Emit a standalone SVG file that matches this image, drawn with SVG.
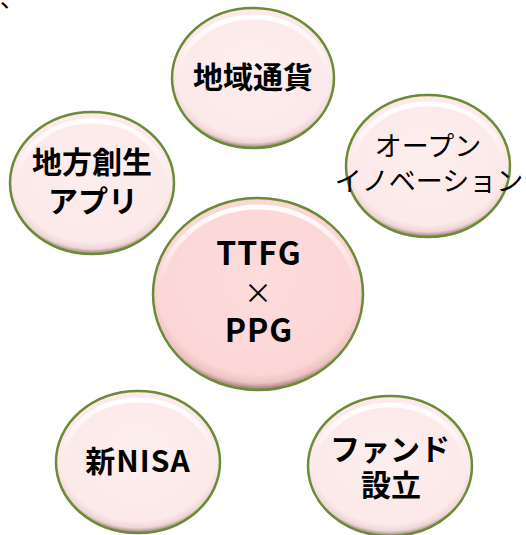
<svg xmlns="http://www.w3.org/2000/svg" width="526" height="535" viewBox="0 0 526 535">
<style>
.bub{stroke:#6b8c36;stroke-width:2.5}
.hl{fill:none;stroke:url(#hl);stroke-width:5}
.t{font-family:"Noto Sans CJK JP","Noto Sans",sans-serif;font-weight:bold;fill:#000;text-anchor:middle}
.r{font-weight:normal}
</style>
<defs>
<radialGradient id="g1" cx="0.5" cy="0.43" r="0.58">
<stop offset="0" stop-color="#fdeeee"/>
<stop offset="0.84" stop-color="#fce9e9"/>
<stop offset="0.92" stop-color="#efd6d6"/>
<stop offset="0.97" stop-color="#a88c8c"/>
<stop offset="1" stop-color="#7a6060"/>
</radialGradient>
<radialGradient id="g2" cx="0.5" cy="0.43" r="0.58">
<stop offset="0" stop-color="#fddcdc"/>
<stop offset="0.84" stop-color="#fcd6d6"/>
<stop offset="0.92" stop-color="#edc2c2"/>
<stop offset="0.97" stop-color="#a88080"/>
<stop offset="1" stop-color="#7a5a5a"/>
</radialGradient>
<linearGradient id="hl" x1="0" y1="0" x2="0" y2="1">
<stop offset="0" stop-color="#fff" stop-opacity="1"/>
<stop offset="0.45" stop-color="#fff" stop-opacity="0"/>
</linearGradient>
</defs>
<text x="0" y="7" font-family="Noto Sans CJK JP,sans-serif" font-size="24">、</text>
<g id="connectors"/>
<g id="node-chiiki">
<ellipse class="bub" cx="253" cy="78" rx="81" ry="70" fill="url(#g1)"/>
<ellipse class="hl" cx="253" cy="80" rx="75" ry="63"/>
<text class="t" x="253" y="88" font-size="30">地域通貨</text>
</g>
<g id="node-chihou">
<ellipse class="bub" cx="92" cy="183" rx="82" ry="71" fill="url(#g1)"/>
<ellipse class="hl" cx="92" cy="185" rx="76" ry="64"/>
<text class="t" x="92" y="173" font-size="30">地方創生</text>
<text class="t" x="93" y="212" font-size="30">アプリ</text>
</g>
<g id="node-open">
<ellipse class="bub" cx="428" cy="166" rx="82" ry="71" fill="url(#g1)"/>
<ellipse class="hl" cx="428" cy="168" rx="76" ry="64"/>
<text class="t r" x="428" y="156" font-size="27">オープン</text>
<text class="t r" x="429" y="191" font-size="27">イノベーション</text>
</g>
<g id="node-center">
<ellipse class="bub" cx="258" cy="294" rx="105" ry="96" fill="url(#g2)"/>
<ellipse class="hl" cx="258" cy="296" rx="99" ry="89"/>
<text class="t" x="259" y="265" font-size="32" letter-spacing="1">TTFG</text>
<text class="t r" x="258" y="304" font-size="28">×</text>
<text class="t" x="259" y="342" font-size="32" letter-spacing="1">PPG</text>
</g>
<g id="node-nisa">
<ellipse class="bub" cx="138" cy="462" rx="82" ry="71" fill="url(#g1)"/>
<ellipse class="hl" cx="138" cy="464" rx="76" ry="64"/>
<text class="t" x="138" y="472" font-size="30" letter-spacing="1">新NISA</text>
</g>
<g id="node-fund">
<ellipse class="bub" cx="390" cy="466" rx="82" ry="70" fill="url(#g1)"/>
<ellipse class="hl" cx="390" cy="468" rx="76" ry="63"/>
<text class="t" x="390" y="460" font-size="30">ファンド</text>
<text class="t" x="391" y="496" font-size="30">設立</text>
</g>
</svg>
